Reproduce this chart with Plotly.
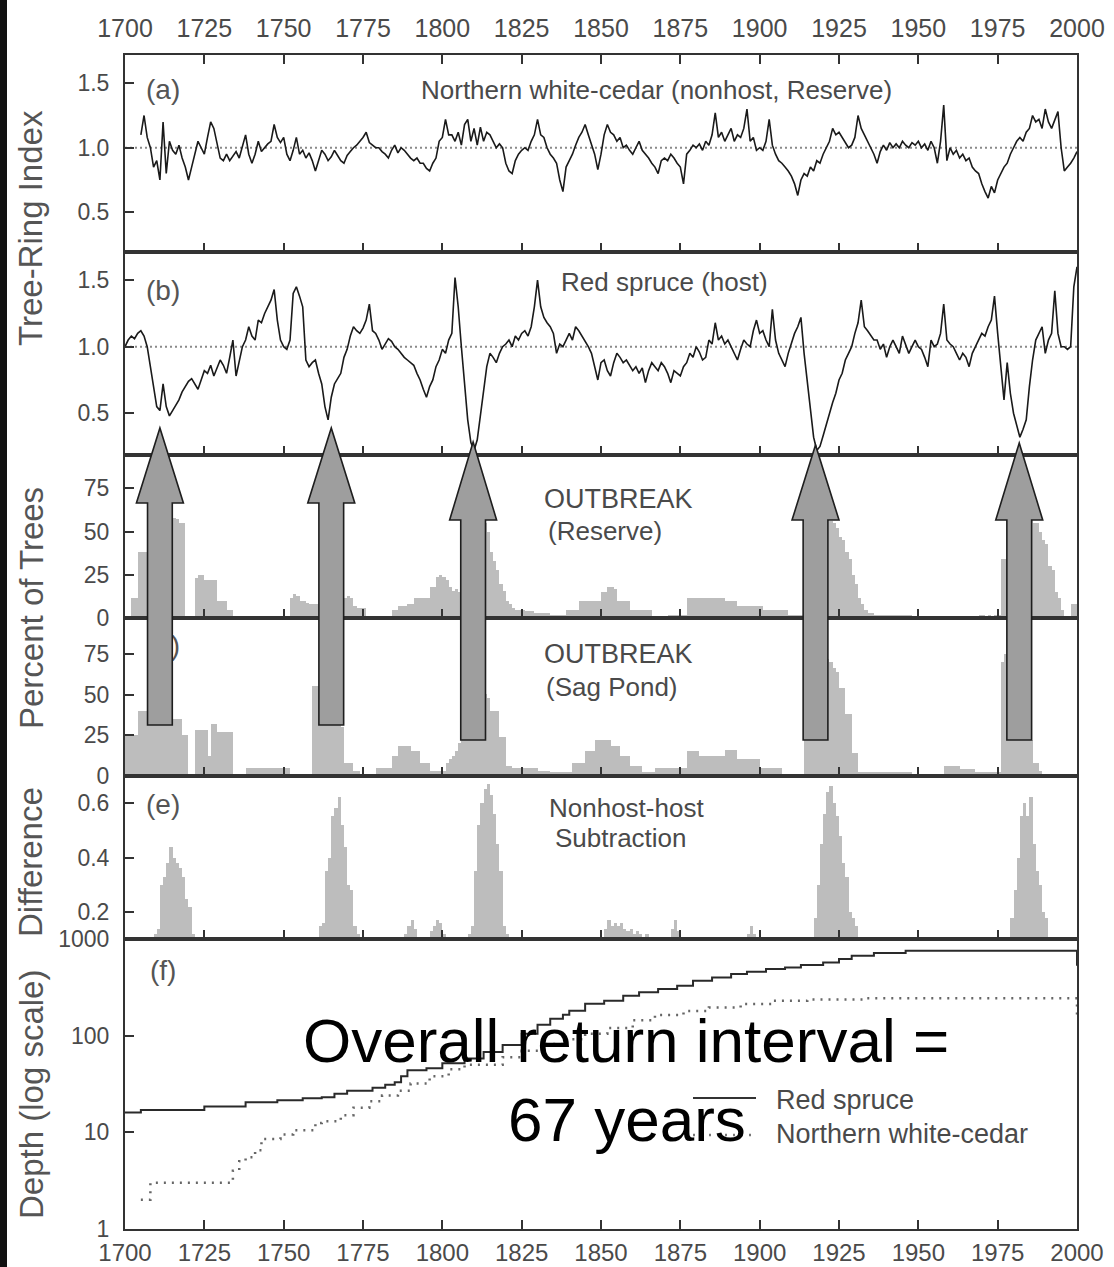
import plotly.graph_objects as go

# ---------------- DATA ----------------
X_TICKS = list(range(1700, 2001, 25))
INDEX_TICKS = [0.5, 1.0, 1.5]
PCT_TICKS = [0, 25, 50, 75]
DIFF_TICKS = [0.2, 0.4, 0.6]
DEPTH_TICKS = [1, 10, 100, 1000]

# (a) Northern white-cedar ring index, annual from 1705
CEDAR_START = 1705
CEDAR_INDEX = [
    1.10, 1.25, 1.08, 1.00, 0.85,
    0.90, 0.75, 1.20, 0.80, 1.05, 0.98, 0.95, 1.02, 0.92, 0.85,
    0.75, 0.85, 0.95, 1.05, 1.00, 0.95, 1.08, 1.20, 1.15, 1.02,
    0.92, 0.90, 0.95, 0.90, 0.94, 0.97, 0.92, 1.00, 1.10, 0.95,
    0.88, 0.95, 1.05, 0.97, 1.00, 1.03, 1.05, 1.18, 1.08, 1.04,
    1.08, 0.95, 0.90, 0.98, 1.08, 0.95, 0.98, 0.92, 0.96, 0.90,
    0.82, 0.90, 0.98, 0.95, 0.90, 0.93, 0.98, 0.94, 0.90, 0.88,
    0.94, 0.97, 1.00, 1.02, 1.05, 1.08, 1.12, 1.04, 1.02, 1.00,
    1.00, 0.97, 0.95, 0.92, 0.98, 1.02, 0.96, 1.00, 0.98, 0.95,
    0.92, 0.90, 0.92, 0.88, 0.88, 0.84, 0.82, 0.88, 0.92, 1.05,
    1.08, 1.22, 1.10, 1.10, 1.05, 1.12, 1.02, 1.18, 1.22, 1.05,
    1.15, 1.02, 1.16, 1.05, 1.12, 1.10, 1.05, 1.00, 1.03, 1.00,
    0.88, 0.82, 0.80, 0.90, 0.95, 0.98, 1.00, 0.98, 1.05, 1.10,
    1.22, 1.10, 1.08, 1.00, 0.95, 0.92, 0.88, 0.75, 0.66, 0.85,
    0.90, 0.95, 1.02, 1.08, 1.12, 1.18, 1.10, 1.02, 0.95, 0.83,
    0.95, 1.10, 1.18, 1.12, 1.10, 1.05, 1.08, 1.00, 1.02, 0.98,
    0.95, 1.00, 1.05, 0.98, 0.95, 0.92, 0.88, 0.85, 0.80, 0.90,
    0.92, 0.90, 0.95, 0.92, 0.88, 0.85, 0.72, 0.95, 0.98, 1.02,
    1.00, 1.03, 0.98, 1.05, 1.02, 1.10, 1.27, 1.08, 1.12, 1.05,
    1.10, 1.15, 1.05, 1.10, 1.08, 1.15, 1.30, 1.05, 1.08, 0.98,
    1.00, 0.98, 1.05, 1.22, 1.02, 0.95, 0.90, 0.88, 0.85, 0.82,
    0.78, 0.72, 0.63, 0.75, 0.80, 0.78, 0.85, 0.82, 0.90, 0.88,
    0.95, 1.00, 1.05, 1.15, 1.10, 1.12, 1.08, 1.05, 1.00, 1.02,
    1.08, 1.25, 1.15, 1.10, 1.05, 1.00, 0.95, 0.88, 0.97, 1.02,
    0.98, 1.04, 1.00, 1.03, 1.00, 1.05, 1.02, 1.00, 1.04, 1.02,
    1.05, 1.00, 1.03, 0.98, 1.05, 1.00, 0.88, 1.05, 1.33, 0.90,
    1.00, 0.95, 0.98, 0.92, 0.95, 0.90, 0.92, 0.85, 0.82, 0.80,
    0.72, 0.66, 0.61, 0.70, 0.65, 0.75, 0.80, 0.85, 0.88, 0.95,
    1.00, 1.05, 1.08, 1.05, 1.12, 1.15, 1.25, 1.20, 1.22, 1.15,
    1.30, 1.20, 1.15, 1.22, 1.28, 1.00, 0.82, 0.85, 0.88, 0.92,
    0.97,
]

# (b) Red spruce ring index, annual from 1700
SPRUCE_START = 1700
SPRUCE_INDEX = [
    1.00, 1.05, 1.08, 1.06, 1.10, 1.12, 1.08, 1.00, 0.85, 0.70,
    0.55, 0.52, 0.72, 0.55, 0.48, 0.52, 0.56, 0.60, 0.66, 0.70,
    0.74, 0.76, 0.72, 0.68, 0.75, 0.82, 0.80, 0.86, 0.78, 0.84,
    0.90, 0.86, 0.80, 0.92, 1.05, 0.78, 0.88, 1.00, 1.05, 1.15,
    1.08, 1.05, 1.20, 1.18, 1.25, 1.30, 1.35, 1.43, 1.20, 1.05,
    1.00, 0.98, 1.05, 1.40, 1.45, 1.38, 1.30, 0.90, 0.85, 0.88,
    0.90, 0.80, 0.72, 0.55, 0.45, 0.62, 0.72, 0.76, 0.80, 0.92,
    0.98, 1.08, 1.15, 1.12, 1.10, 1.14, 1.20, 1.32, 1.12, 1.10,
    1.05, 0.98, 1.02, 1.06, 1.04, 1.00, 0.98, 0.95, 0.92, 0.90,
    0.88, 0.86, 0.80, 0.75, 0.68, 0.62, 0.70, 0.75, 0.85, 0.90,
    0.98, 0.95, 1.05, 1.10, 1.52, 1.30, 1.00, 0.72, 0.45, 0.28,
    0.22, 0.30, 0.48, 0.70, 0.85, 0.95, 0.92, 0.88, 0.95, 1.00,
    1.02, 1.05, 1.00, 1.08, 1.05, 1.10, 1.12, 1.08, 1.15, 1.30,
    1.50, 1.30, 1.22, 1.18, 1.15, 1.10, 0.95, 1.02, 1.00, 1.05,
    1.10, 1.05, 1.15, 1.12, 1.08, 1.05, 1.00, 0.95, 0.85, 0.75,
    0.88, 0.90, 0.82, 0.78, 0.88, 0.95, 0.92, 0.88, 0.90, 0.86,
    0.82, 0.85, 0.80, 0.84, 0.73, 0.82, 0.88, 0.85, 0.82, 0.88,
    0.85, 0.80, 0.73, 0.82, 0.80, 0.78, 0.85, 0.88, 0.95, 0.92,
    1.00, 0.96, 0.90, 0.92, 1.05, 1.02, 1.18, 1.05, 1.08, 1.02,
    1.05, 1.00, 0.95, 0.90, 0.98, 1.05, 1.02, 1.00, 1.12, 1.20,
    1.10, 1.12, 1.05, 1.00, 1.28, 1.05, 0.95, 0.90, 0.85, 0.95,
    1.02, 1.10, 1.15, 1.22, 0.95, 0.75, 0.52, 0.32, 0.22, 0.25,
    0.33, 0.42, 0.50, 0.58, 0.65, 0.75, 0.80, 0.90, 0.95, 1.00,
    1.10, 1.18, 1.35, 1.15, 1.12, 1.08, 1.05, 1.05, 0.98, 1.02,
    0.92, 1.00, 1.05, 1.00, 0.95, 1.08, 1.02, 0.95, 1.00, 1.05,
    1.00, 0.98, 0.92, 0.85, 1.05, 1.00, 1.02, 1.10, 1.32, 1.05,
    1.02, 1.00, 0.95, 0.90, 0.95, 0.92, 0.85, 0.95, 1.00, 1.05,
    1.10, 1.08, 1.15, 1.20, 1.38, 1.10, 0.85, 0.60, 0.88, 0.65,
    0.50, 0.40, 0.32, 0.38, 0.45, 0.70, 0.90, 1.05, 1.10, 1.15,
    0.95, 1.05, 1.10, 1.42, 1.10, 1.00, 1.00, 0.98, 1.00, 1.45,
    1.60,
]

# (c) Outbreak, percent of trees (Reserve), annual from 1700
OUTBREAK_START = 1700
RESERVE_PCT = [
    0, 0, 12, 12, 38, 38, 38, 45, 50, 55,
    58, 60, 60, 58, 58, 58, 57, 55, 55, 0,
    0, 0, 23, 25, 25, 22, 22, 22, 22, 10,
    10, 10, 5, 5, 0, 0, 0, 0, 0, 0,
    0, 0, 0, 0, 0, 0, 0, 0, 0, 0,
    0, 0, 12, 14, 13, 10, 10, 9, 8, 8,
    8, 8, 10, 12, 14, 15, 14, 13, 12, 12,
    13, 12, 7, 6, 6, 6, 0, 0, 0, 0,
    0, 0, 0, 0, 5, 5, 7, 7, 7, 8,
    8, 12, 12, 12, 12, 12, 18, 18, 24, 25,
    24, 22, 18, 16, 17, 15, 20, 30, 40, 50,
    55, 58, 58, 55, 50, 38, 33, 28, 20, 16,
    10, 8, 6, 5, 5, 5, 4, 4, 4, 3,
    3, 3, 3, 3, 2, 2, 2, 2, 2, 5,
    5, 5, 5, 10, 10, 10, 10, 10, 10, 10,
    15, 15, 18, 18, 17, 10, 10, 10, 10, 5,
    5, 5, 5, 5, 5, 5, 1, 1, 1, 1,
    1, 2, 2, 2, 2, 2, 2, 12, 12, 12,
    12, 12, 12, 12, 12, 12, 12, 12, 12, 10,
    10, 10, 10, 7, 7, 7, 7, 7, 7, 7,
    7, 5, 5, 5, 5, 5, 5, 5, 5, 2,
    2, 2, 2, 2, 10, 20, 30, 40, 50, 55,
    58, 58, 56, 55, 52, 47, 45, 38, 34, 25,
    20, 12, 8, 5, 3, 3, 2, 2, 2, 2,
    2, 2, 2, 2, 2, 2, 2, 2, 1, 1,
    1, 0, 1, 1, 0, 1, 1, 0, 1, 1,
    1, 1, 0, 1, 1, 1, 0, 1, 1, 2,
    2, 1, 2, 1, 2, 2, 34, 34, 40, 45,
    50, 55, 58, 60, 58, 57, 55, 55, 50, 45,
    43, 30, 28, 15, 12, 5, 0, 0, 8, 8,
    10,
]

# (d) Outbreak, percent of trees (Sag Pond), annual from 1700
SAGPOND_PCT = [
    25, 25, 25, 25, 40, 40, 40, 40, 40, 40,
    40, 38, 36, 35, 35, 35, 35, 35, 25, 25,
    0, 0, 28, 28, 28, 28, 12, 32, 32, 27,
    27, 27, 27, 27, 0, 0, 0, 0, 5, 5,
    5, 5, 5, 5, 5, 5, 5, 5, 5, 5,
    5, 5, 0, 0, 0, 0, 0, 0, 0, 55,
    55, 55, 55, 52, 50, 45, 40, 35, 30, 8,
    8, 8, 3, 3, 0, 0, 0, 0, 0, 5,
    5, 5, 5, 5, 12, 12, 18, 18, 18, 18,
    15, 15, 15, 8, 8, 8, 3, 3, 3, 3,
    3, 8, 10, 12, 15, 20, 26, 30, 35, 40,
    45, 50, 50, 50, 48, 40, 40, 40, 24, 24,
    6, 6, 5, 5, 5, 5, 5, 5, 5, 5,
    3, 3, 3, 3, 2, 2, 2, 2, 2, 2,
    2, 8, 8, 8, 8, 15, 15, 15, 22, 22,
    22, 22, 22, 18, 18, 18, 12, 12, 12, 6,
    6, 6, 6, 2, 2, 2, 2, 5, 5, 5,
    5, 5, 5, 5, 5, 5, 5, 15, 15, 15,
    15, 12, 12, 12, 12, 12, 12, 12, 12, 16,
    16, 16, 16, 10, 10, 10, 10, 10, 10, 10,
    5, 5, 5, 5, 5, 5, 5, 1, 1, 1,
    1, 1, 1, 1, 25, 35, 45, 55, 65, 70,
    72, 72, 70, 66, 64, 54, 54, 38, 38, 14,
    14, 2, 2, 2, 2, 2, 2, 2, 2, 2,
    2, 2, 2, 2, 2, 2, 2, 2, 1, 1,
    1, 1, 1, 1, 1, 1, 1, 1, 6, 6,
    6, 6, 6, 4, 4, 4, 4, 4, 2, 2,
    2, 2, 2, 2, 2, 2, 70, 75, 75, 70,
    60, 50, 40, 30, 25, 22, 8, 8, 3, 0,
    0, 0, 0, 0, 0, 0, 0, 0, 0, 0,
    0,
]

# (e) Nonhost-host difference
DIFF_YEARS = [
    1709, 1710, 1711, 1712, 1713, 1714, 1715, 1716, 1717, 1718, 1719, 1720, 1721, 1722,
    1761, 1762, 1763, 1764, 1765, 1766, 1767, 1768, 1769, 1770, 1771, 1772, 1773,
    1787, 1788, 1789, 1790, 1791, 1795, 1796, 1797, 1798, 1799, 1800,
    1808, 1809, 1810, 1811, 1812, 1813, 1814, 1815, 1816, 1817, 1818, 1819, 1820,
    1851, 1852, 1853, 1854, 1855, 1856, 1857, 1858, 1859, 1860, 1861, 1862, 1863, 1864,
    1872, 1873, 1874, 1896, 1897, 1898,
    1917, 1918, 1919, 1920, 1921, 1922, 1923, 1924, 1925, 1926, 1927, 1928, 1929, 1930,
    1979, 1980, 1981, 1982, 1983, 1984, 1985, 1986, 1987, 1988, 1989, 1990,
]
DIFF_VALUES = [
    0.12, 0.14, 0.30, 0.33, 0.38, 0.44, 0.40, 0.38, 0.36, 0.33, 0.25, 0.22, 0.12, 0.10,
    0.15, 0.16, 0.35, 0.40, 0.55, 0.58, 0.62, 0.52, 0.44, 0.30, 0.28, 0.15, 0.12,
    0.11, 0.12, 0.15, 0.17, 0.14, 0.11, 0.13, 0.15, 0.17, 0.16, 0.12,
    0.12, 0.15, 0.35, 0.52, 0.60, 0.65, 0.67, 0.63, 0.56, 0.45, 0.35, 0.15, 0.12,
    0.14, 0.17, 0.15, 0.16, 0.15, 0.16, 0.14, 0.13, 0.14, 0.12, 0.13, 0.12, 0.11, 0.12,
    0.14, 0.17, 0.13, 0.12, 0.15, 0.12,
    0.18, 0.30, 0.45, 0.56, 0.64, 0.66, 0.60, 0.55, 0.48, 0.38, 0.33, 0.20, 0.18, 0.15,
    0.18, 0.28, 0.40, 0.55, 0.60, 0.55, 0.62, 0.45, 0.35, 0.30, 0.20, 0.18,
]

# (f) Sample depth (log scale), stepwise
SPRUCE_DEPTH_YEARS = [1700, 1705, 1725, 1738, 1748, 1756, 1762, 1766, 1770, 1778, 1782,
                      1785, 1787, 1789, 1795, 1800, 1807, 1813, 1819, 1825, 1830, 1834,
                      1838, 1840, 1845, 1851, 1857, 1862, 1868, 1874, 1879, 1885, 1891,
                      1896, 1902, 1908, 1913, 1920, 1925, 1929, 1936, 1946, 2000]
SPRUCE_DEPTH = [16, 17, 18.5, 20.5, 21.5, 22.5, 23, 25, 27, 29, 31,
                33, 38, 44, 46, 52, 58, 68, 80, 105, 130, 150,
                165, 181, 214, 230, 260, 282, 305, 330, 372, 400, 435,
                460, 490, 510, 540, 575, 625, 675, 720, 760, 530]
CEDAR_DEPTH_YEARS = [1705, 1708, 1734, 1736, 1738, 1741, 1743, 1749, 1753, 1760, 1762,
                     1768, 1772, 1777, 1781, 1786, 1790, 1796, 1802, 1807, 1819, 1825,
                     1832, 1838, 1845, 1852, 1860, 1867, 1876, 1884, 1894, 1904, 1915,
                     1933, 2000]
CEDAR_DEPTH = [2, 3, 4, 5, 5.5, 6.5, 8.5, 9.5, 10.5, 12.5, 13,
               15, 18, 21, 24, 27, 32, 38, 45, 50, 60, 70,
               82, 92, 105, 120, 145, 164, 180, 196, 213, 230, 238,
               245, 150]

# Years pointed at by the outbreak arrows
ARROW_YEARS = [1711, 1765, 1809.7, 1917.6, 1981.8]

# ---------------- LAYOUT GEOMETRY ----------------
W, H = 1114, 1267
X0, X1 = 1700, 2000
FONT = "Arial, 'Liberation Sans', sans-serif"
TXT = "#4a4a4a"
AX = "#333333"

BOUNDS = [55, 251.7, 455, 618.3, 776, 939, 1229]
ML, MR = 125, 37
MT, MB = BOUNDS[0], H - BOUNDS[-1]
PW, PH = W - ML - MR, H - MT - MB


def px(x):
    return (x - ML) / PW


def py(y):
    return (H - MB - y) / PH


def yx(year):
    return (year - X0) / (X1 - X0)


RANGES = [[0.194, 1.719], [0.186, 1.714], [0, 94.2], [0, 97], [0.102, 0.698], [-0.002, 3.002]]

fig = go.Figure()

cedar_years = list(range(CEDAR_START, CEDAR_START + len(CEDAR_INDEX)))
spruce_years = list(range(SPRUCE_START, SPRUCE_START + len(SPRUCE_INDEX)))
out_years = list(range(OUTBREAK_START, OUTBREAK_START + len(RESERVE_PCT)))

REF_DASH = dict(color="#8a8a8a", width=2, dash="2px,3px")

fig.add_trace(go.Scatter(x=[X0, X1], y=[1.0, 1.0], mode="lines", line=REF_DASH,
                         xaxis="x", yaxis="y", hoverinfo="skip"))
fig.add_trace(go.Scatter(x=cedar_years, y=CEDAR_INDEX, mode="lines",
                         line=dict(color="#1a1a1a", width=1.6), xaxis="x", yaxis="y"))
fig.add_trace(go.Scatter(x=[X0, X1], y=[1.0, 1.0], mode="lines", line=REF_DASH,
                         xaxis="x2", yaxis="y2", hoverinfo="skip"))
fig.add_trace(go.Scatter(x=spruce_years, y=SPRUCE_INDEX, mode="lines",
                         line=dict(color="#1a1a1a", width=1.6), xaxis="x2", yaxis="y2"))
BAR = dict(color="#bdbdbd", line=dict(width=0))
fig.add_trace(go.Bar(x=out_years, y=RESERVE_PCT, width=1, offset=0, marker=BAR,
                     xaxis="x3", yaxis="y3"))
fig.add_trace(go.Bar(x=out_years, y=SAGPOND_PCT, width=1, offset=0, marker=BAR,
                     xaxis="x4", yaxis="y4"))
fig.add_trace(go.Bar(x=DIFF_YEARS, y=DIFF_VALUES, width=1, offset=0, marker=BAR,
                     xaxis="x5", yaxis="y5"))
fig.add_trace(go.Scatter(x=[1712], y=[74], mode="text", text=["(c)"],
                         textfont=dict(family=FONT, size=28, color="#555"),
                         xaxis="x3", yaxis="y3"))
fig.add_trace(go.Scatter(x=[1712], y=[79], mode="text", text=["(d)"],
                         textfont=dict(family=FONT, size=28, color="#555"),
                         xaxis="x4", yaxis="y4"))
fig.add_trace(go.Scatter(x=SPRUCE_DEPTH_YEARS, y=SPRUCE_DEPTH, mode="lines",
                         line=dict(color="#2a2a2a", width=2, shape="hv"),
                         xaxis="x6", yaxis="y6"))
fig.add_trace(go.Scatter(x=CEDAR_DEPTH_YEARS, y=CEDAR_DEPTH, mode="lines",
                         line=dict(color="#666", width=2.5, shape="hv", dash="2px,6px"),
                         xaxis="x6", yaxis="y6"))

layout = dict(width=W, height=H, autosize=False, showlegend=False,
              margin=dict(l=ML, r=MR, t=MT, b=MB, pad=0, autoexpand=False),
              paper_bgcolor="white", plot_bgcolor="white", bargap=0,
              font=dict(family=FONT, color=TXT))

YTICKS = [
    dict(tickvals=INDEX_TICKS, ticktext=["0.5", "1.0", "1.5"]),
    dict(tickvals=INDEX_TICKS, ticktext=["0.5", "1.0", "1.5"]),
    dict(tickvals=PCT_TICKS),
    dict(tickvals=PCT_TICKS),
    dict(tickvals=DIFF_TICKS, ticktext=["0.2", "0.4", "0.6"]),
    dict(tickvals=DEPTH_TICKS, ticktext=["1", "10", "100", "1000"], type="log"),
]

for i in range(6):
    sfx = "" if i == 0 else str(i + 1)
    xa = dict(domain=[0, 1], range=[X0, X1], tickvals=X_TICKS, ticks="inside", ticklen=9,
              tickwidth=1.5, tickcolor=AX, showline=True, linecolor=AX, linewidth=2,
              showgrid=False, zeroline=False, anchor="y" + sfx, automargin=False,
              tickfont=dict(family=FONT, size=25, color=TXT), fixedrange=True)
    if i == 0:
        xa.update(side="top", mirror="ticks", showticklabels=True, ticklabelstandoff=6)
    elif i == 5:
        xa.update(side="bottom", mirror=True, showticklabels=True, ticklabelstandoff=1,
                  tickfont=dict(family=FONT, size=24, color=TXT))
    else:
        xa.update(mirror=True, showticklabels=False)
    ya = dict(domain=[py(BOUNDS[i + 1]), py(BOUNDS[i])],
              range=RANGES[i], ticks="inside",
              ticklen=9, tickwidth=1.5, tickcolor=AX, showline=True, linecolor=AX,
              linewidth=2, mirror=True, showgrid=False, zeroline=False, automargin=False,
              anchor="x" + sfx, tickfont=dict(family=FONT, size=23, color=TXT),
              ticklabelstandoff=9, fixedrange=True)
    ya.update(YTICKS[i])
    layout["xaxis" + sfx] = xa
    layout["yaxis" + sfx] = ya

fig.update_layout(**layout)

# ---------------- ARROWS ----------------
ARROW_TIP = [428, 428, 442, 445, 443]
ARROW_BASE = [503, 503, 520, 520, 520]
ARROW_BOT = [725, 725, 740, 740, 740]
SHAFT_HW, HEAD_HW = 3.9, 7.4  # in years
shapes = []
for yr, tip, base, bot in zip(ARROW_YEARS, ARROW_TIP, ARROW_BASE, ARROW_BOT):
    pts = [(yr - SHAFT_HW, bot), (yr - SHAFT_HW, base), (yr - HEAD_HW, base), (yr, tip),
           (yr + HEAD_HW, base), (yr + SHAFT_HW, base), (yr + SHAFT_HW, bot)]
    path = "M" + " L".join(f"{yx(a):.5f},{py(b):.5f}" for a, b in pts) + " Z"
    shapes.append(dict(type="path", path=path, xref="paper", yref="paper",
                       fillcolor="#9e9e9e", line=dict(color="#1e1e1e", width=1.6),
                       layer="above"))

shapes.append(dict(type="rect", xref="paper", yref="paper", x0=px(0), x1=px(7),
                   y0=py(H + 2), y1=py(-2), fillcolor="#111",
                   line=dict(width=0), layer="above"))

shapes.append(dict(type="line", xref="paper", yref="paper", x0=px(693), x1=px(756),
                   y0=py(1098), y1=py(1098), line=dict(color="#333", width=2)))
shapes.append(dict(type="line", xref="paper", yref="paper", x0=px(693), x1=px(756),
                   y0=py(1135), y1=py(1135), line=dict(color="#777", width=2.5, dash="2px,6px")))
fig.update_layout(shapes=shapes)

# ---------------- TEXT ----------------
ann = []


def note(text, x, y, size, color=TXT, xanchor="center", angle=0, align="center"):
    ann.append(dict(text=text, x=px(x), y=py(y), xref="paper", yref="paper",
                    showarrow=False, xanchor=xanchor, yanchor="middle",
                    textangle=angle, align=align,
                    font=dict(family=FONT, size=size, color=color)))


note("(a)", 163, 90, 28, "#555")
note("(b)", 163, 290, 28, "#555")
note("(e)", 163, 805, 28, "#555")
note("(f)", 163, 971, 28, "#555")
note("Northern white-cedar (nonhost, Reserve)", 656, 90, 26)
note("Red spruce (host)", 664, 282, 26)
note("OUTBREAK", 542, 499, 27, xanchor="left")
note("(Reserve)", 546, 531, 26, xanchor="left")
note("OUTBREAK", 542, 654, 27, xanchor="left")
note("(Sag Pond)", 544, 687, 26, xanchor="left")
note("Nonhost-host", 626, 808, 26)
note("Subtraction", 621, 838, 26)
note("Overall return interval =", 626, 1040, 62, "#000")
note("67 years", 627, 1119, 62, "#000")
note("Red spruce", 774, 1100, 27, xanchor="left")
note("Northern white-cedar", 774, 1134, 27, xanchor="left")
note("Tree-Ring Index", 31, 228, 33, "#555", angle=-90)
note("Percent of Trees", 31, 608, 33, "#555", angle=-90)
note("Difference", 31, 862, 33, "#555", angle=-90)
note("Depth (log scale)", 31, 1095, 33, "#555", angle=-90)
fig.update_layout(annotations=ann)

POST = ("document.body.style.margin='0';"
        "document.body.style.overflow='hidden';")

fig.write_html("out.html",
               config=dict(displayModeBar=False, responsive=False),
               post_script=POST)
